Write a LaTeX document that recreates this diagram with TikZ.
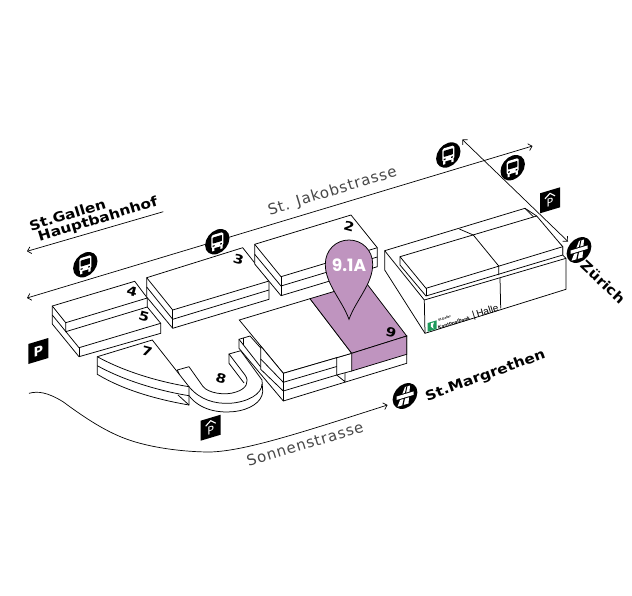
\documentclass[tikz,border=0pt]{standalone}
\usepackage{fontspec}
\setmainfont{DejaVu Sans}
\newfontfamily\labelfont{Poppins}
\newfontfamily\narrowfont{Liberation Sans}
\usetikzlibrary{arrows.meta}
\definecolor{mauve}{HTML}{BF94BF}
\definecolor{bankgreen}{HTML}{1F9A5B}
\tikzset{
  wall/.style={draw=black,fill=white,line width=.75pt,line join=miter},
  edge/.style={draw=black,line width=.75pt},
  mauveface/.style={draw=black,fill=mauve,line width=.75pt},
  road/.style={draw=black,line width=.7pt,{Straight Barb[length=3.5pt,width=7pt]}-{Straight Barb[length=3.5pt,width=7pt]}},
  roadleft/.style={draw=black,line width=.7pt,{Straight Barb[length=3.5pt,width=7pt]}-},
  roadright/.style={draw=black,line width=.7pt,-{Straight Barb[length=3.5pt,width=7pt]}},
  place/.style={font=\bfseries\fontsize{13.5}{15}\selectfont\addfontfeature{FakeStretch=1.14},text=black,inner sep=0,rotate=17},
  street/.style={font=\fontsize{15}{17}\selectfont\addfontfeature{LetterSpace=6},text=black!72,inner sep=0,rotate=17},
  number/.style={font=\bfseries\fontsize{12.5}{14}\selectfont\addfontfeature{FakeStretch=1.2},inner sep=0,rotate=-15},
}
\newcommand{\busicon}[1]{\begin{scope}[shift={(#1)},yslant=.3]
  \fill[black] (0,0) circle (12.2);
  \fill[white,rounded corners=1.6] (-6,-8) rectangle (6,5.5);
  \fill[white] (-5.2,5) rectangle (-3,8.2) (3,5) rectangle (5.2,8.2);
  \fill[black,rounded corners=.6] (-4.6,-5.4) rectangle (4.6,.6);
  \fill[black] (-4.6,2.6) rectangle (-2.8,3.8) (2.8,2.6) rectangle (4.6,3.8);
\end{scope}}
\newcommand{\motorway}[1]{\begin{scope}[shift={(#1)},yslant=.3]
  \fill[black] (0,0) circle (12.4);
  \fill[white] (-7.5,8.5) -- (0,-9) -- (5,-9) -- (3.5,8.5) -- cycle;
  \fill[black] (1.4,-9.2) -- (2.4,-9.2) -- (-1.4,8.8) -- (-2.8,8.8) -- cycle;
  \fill[black] (-10,-3) rectangle (10,2.4);
  \fill[white] (-8.5,-2) rectangle (8.5,1.4);
\end{scope}}
\newcommand{\parksign}[1]{\begin{scope}[shift={(#1)},yslant=.3]
  \fill[black] (0,0) rectangle (20,20);
  \node[inner sep=0,text=white,font=\bfseries\fontsize{13}{13}\selectfont,yslant=.3] at (10,10) {P};
\end{scope}}
\newcommand{\parkhouse}[1]{\begin{scope}[shift={(#1)},yslant=.3]
  \fill[black] (0,0) rectangle (20,20);
  \draw[white,line width=1.1pt] (5,7) -- (10,3) -- (15,7);
  \node[inner sep=0,text=white,font=\fontsize{11}{11}\selectfont,yslant=.3] at (10,12.5) {P};
\end{scope}}
\begin{document}
\begin{tikzpicture}[x=1pt,y=-1pt]
\useasboundingbox (0,0) rectangle (632,595);
\fill[white] (0,0) rectangle (632,595);

% road ends
\coordinate (jakobW) at (27,298);
\coordinate (jakobE) at (532.5,146);
\coordinate (gallenW) at (27,251.3);
\coordinate (gallenE) at (163.3,211.7);
\coordinate (crossN) at (462.3,139.5);
\coordinate (crossS) at (568,241.5);
\coordinate (sonnenW) at (29,393.3);
\coordinate (sonnenE) at (387.5,405);

\draw[road] (jakobW) -- (jakobE);
\draw[roadleft] (gallenW) -- (gallenE);
\draw[road] (crossN) -- (crossS);
\draw[roadright] (sonnenW) .. controls (38,391) and (47,392) .. (63,401.7)
  .. controls (85,418) and (105,431) .. (125,438.5)
  .. controls (150,448) and (185,452) .. (210,452)
  .. controls (245,451) and (300,433) .. (sonnenE);

% halls 4 and 5
\path[wall] (52.3,306) -- (134.7,281.3) -- (147.3,298) -- (147.3,307) -- (160.7,323.3) -- (160.7,333.3) -- (79,356.7) -- (52.3,324) -- cycle;
\draw[edge] (52.3,306) -- (65.7,322.7) -- (147.3,298);
\draw[edge] (65.7,322.7) -- (65.7,331.7) -- (147.3,307);
\draw[edge] (52.3,315) -- (79,347.7) -- (160.7,323.3);
\draw[edge] (79,347.7) -- (79,356.7);

% hall 3
\path[wall] (146.7,277.7) -- (242.7,247.7) -- (269,281) -- (269,299.3) -- (172.7,328.3) -- (146.7,297) -- cycle;
\draw[edge] (146.7,277.7) -- (172.7,310) -- (269,281);
\draw[edge] (146.7,287) -- (172.7,319.3) -- (269,290);
\draw[edge] (172.7,310) -- (172.7,328.3);

% hall 2
\path[wall] (254.7,244.3) -- (351,215) -- (377.3,247.7) -- (377.3,266.7) -- (281,295.7) -- (254.7,264) -- cycle;
\draw[edge] (254.7,244.3) -- (281,276.7) -- (377.3,247.7);
\draw[edge] (254.7,254.3) -- (281,286) -- (377.3,257);
\draw[edge] (281,276.7) -- (281,295.7);

% hall Halle
\path[wall] (384.7,250.7) -- (525,208.3) -- (562.7,246.7) -- (562.7,255) -- (566,258.3) -- (566,289.3) -- (425,333.3) -- (384.7,270) -- cycle;
\draw[edge] (384.7,250.7) -- (424.3,300) -- (425,333.3);
\draw[edge] (424.3,300) -- (566,258.3);
\path[wall] (400,256.7) -- (536.7,216) -- (562.7,246.7) -- (562.7,255) -- (426,296) -- (400,265) -- cycle;
\draw[edge] (400,256.7) -- (426,288.3) -- (562.7,246.7);
\draw[edge] (426,288.3) -- (426,296);
\draw[edge] (525,208.3) -- (536.7,216);
\draw[edge] (459.3,229) -- (473.3,235) -- (498.7,266) -- (498.7,275);
\draw[edge] (500,278) -- (500.7,308.3);
\fill[bankgreen] (427.7,323) -- (436.7,320.3) -- (436.7,329) -- (427.7,331.7) -- cycle;
\fill[white] (431,323.2) .. controls (429.5,325.5) and (431,328) .. (433.5,328.8) .. controls (432.5,326.5) and (433,324.5) .. (434,322.3) -- cycle;
\node[inner sep=0,rotate=17,font=\narrowfont\bfseries\fontsize{3.2}{4}\selectfont,anchor=west] (bankA) at (438,320.3) {St.Galler};
\node[inner sep=0,rotate=17,font=\narrowfont\bfseries\fontsize{5}{6}\selectfont,anchor=west] (bankB) at (438,327.5) {Kantonalbank};
\node[inner sep=0,rotate=17,font=\narrowfont\fontsize{10}{11}\selectfont,anchor=west] (hallelabel) at (472.5,316.5) {|\,Halle};

% hall 8
\path[wall] (177.3,370) -- (189,366.7) -- (203,386.5) .. controls (208,393) and (225,396) .. (236,392)
  .. controls (246,389) and (250,382) .. (245,375) -- (229,354) -- (240.7,350.7) -- (262,380) -- (262.7,391.7)
  .. controls (262,402) and (250,410) .. (233,411.7) .. controls (218,413) and (200,410) .. (189,395.7) -- cycle;
\draw[edge] (189,386.7) .. controls (200,400) and (215,404) .. (230,403.3)
  .. controls (248,402) and (262,394) .. (262,384);
\draw[edge] (229,354) -- (229,363.3) -- (244,383);

% hall 7
\path[wall] (97.3,356.7) -- (152.3,340) -- (189,386.7) -- (189,405)
  .. controls (160,400) and (125,391) .. (97.3,374.3) -- cycle;
\draw[edge] (97.3,356.7) .. controls (125,372) and (160,382) .. (189,386.7);
\draw[edge] (97.3,365.7) .. controls (125,381) and (160,391) .. (189,395.7);
\draw[edge] (178,395) -- (189,405);

% hall 9
\path[wall] (239,339.3) -- (250,336) -- (283.3,373.3) -- (351.7,353.3) -- (406.7,336) -- (406.7,363.3) -- (283.3,401) -- (239,348.3) -- cycle;
\draw[edge] (239,339.3) -- (260.7,367);
\draw[edge] (243,338) -- (243,345);
\path[wall] (239.3,320) -- (310,298.7) -- (351.7,353.3) -- (283.3,373.3) -- cycle;
\path[wall] (260.7,346) -- (283.3,373.3) -- (336.7,357.7) -- (336.7,375) -- (283.3,391) -- (260.7,369.3) -- cycle;
\draw[edge] (260.7,359) -- (283.3,382.3) -- (336.7,366.5);
\draw[edge] (283.3,373.3) -- (283.3,401);
\draw[edge] (336.7,375) -- (345,381.7) -- (345,372.8);
\draw[mauveface] (310,298.7) -- (365.5,282) -- (406.7,336) -- (351.7,353.3) -- cycle;
\draw[mauveface] (351.7,353.3) -- (406.7,336) -- (406.7,354.3) -- (351.7,371) -- cycle;
\draw[edge] (336.7,375) -- (351.7,371);

% numbers
\node[number] (n4) at (132,291) {4};
\node[number] (n5) at (144,316.5) {5};
\node[number] (n7) at (147,351) {7};
\node[number] (n3) at (238.5,259) {3};
\node[number] (n2) at (349,226) {2};
\node[number] (n8) at (221,378) {8};
\node[number] (n9) at (391,332) {9};

% pin
\draw[mauveface] (349,319.3) .. controls (342,300) and (325.3,284) .. (325.3,264.3)
  .. controls (325.3,250) and (336,240) .. (349,240)
  .. controls (362,240) and (372.7,250) .. (372.7,264.3)
  .. controls (372.7,284) and (356,300) .. cycle;
\node[inner sep=0,text=white,font=\labelfont\bfseries\fontsize{17}{18}\selectfont] (pinlabel) at (349,265) {9.1A};

% icons
\busicon{85.3,264.7}
\busicon{217.3,241.7}
\busicon{448.3,155}
\busicon{512.7,167.7}
\motorway{579,250}
\motorway{405,396}
\parksign{28.3,344}
\parkhouse{200.7,420.7}
\parkhouse{540,193.3}

% labels
\node[place] (stg) at (67.5,214.6) {St.Gallen};
\node[place] (hbf) at (98,220) {Hauptbahnhof};
\node[place,rotate=3] (mar) at (485.5,376) {St.Margrethen};
\node[place,rotate=-60] (zur) at (603,282) {Zürich};
\node[street] (jak) at (332.5,191.5) {St. Jakobstrasse};
\node[street] (son) at (305,444) {Sonnenstrasse};
\end{tikzpicture}
\end{document}
